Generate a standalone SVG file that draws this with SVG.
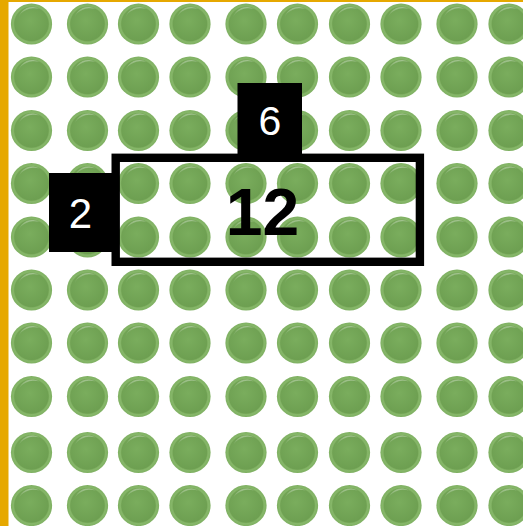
<svg xmlns="http://www.w3.org/2000/svg" xmlns:xlink="http://www.w3.org/1999/xlink" width="523" height="526" viewBox="0 0 523 526">
<defs>
<radialGradient id="rim" cx="0.5" cy="0.5" r="0.5">
<stop offset="0.8" stop-color="#6E9F50"/>
<stop offset="0.88" stop-color="#86B769"/>
<stop offset="1" stop-color="#7FB062"/>
</radialGradient>
<radialGradient id="face" cx="0.45" cy="0.4" r="0.6">
<stop offset="0" stop-color="#7AAD5D"/>
<stop offset="1" stop-color="#6D9F51"/>
</radialGradient>
<linearGradient id="shine" x1="0" y1="0" x2="0" y2="1">
<stop offset="0" stop-color="#ffffff" stop-opacity="0.35"/>
<stop offset="1" stop-color="#ffffff" stop-opacity="0"/>
</linearGradient>
<g id="c">
<circle r="20.6" fill="url(#rim)"/>
<circle r="16.8" fill="url(#face)"/>
<path d="M -13 -6 A 14 14 0 0 1 8 -15 A 16 12 0 0 0 -13 -6 Z" fill="url(#shine)"/>
</g>
</defs>
<style>
.lbl{font-family:"Liberation Sans",Arial,sans-serif;fill:#fff;text-anchor:middle}
.big{font-family:"Liberation Sans",Arial,sans-serif;font-weight:bold;fill:#000;text-anchor:middle}
</style>
<rect x="0" y="0" width="523" height="526" fill="#fff"/>
<rect x="0" y="0" width="523" height="2" fill="#E6A800"/>
<rect x="0" y="0" width="8.5" height="526" fill="#E6A800"/>
<g id="grid">
<use xlink:href="#c" x="31.5" y="24"/><use xlink:href="#c" x="87.5" y="24"/><use xlink:href="#c" x="138.5" y="24"/><use xlink:href="#c" x="190" y="24"/><use xlink:href="#c" x="246" y="24"/><use xlink:href="#c" x="297.5" y="24"/><use xlink:href="#c" x="349.5" y="24"/><use xlink:href="#c" x="401" y="24"/><use xlink:href="#c" x="457" y="24"/><use xlink:href="#c" x="509" y="24"/>
<use xlink:href="#c" x="31.5" y="77"/><use xlink:href="#c" x="87.5" y="77"/><use xlink:href="#c" x="138.5" y="77"/><use xlink:href="#c" x="190" y="77"/><use xlink:href="#c" x="246" y="77"/><use xlink:href="#c" x="297.5" y="77"/><use xlink:href="#c" x="349.5" y="77"/><use xlink:href="#c" x="401" y="77"/><use xlink:href="#c" x="457" y="77"/><use xlink:href="#c" x="509" y="77"/>
<use xlink:href="#c" x="31.5" y="130.5"/><use xlink:href="#c" x="87.5" y="130.5"/><use xlink:href="#c" x="138.5" y="130.5"/><use xlink:href="#c" x="190" y="130.5"/><use xlink:href="#c" x="246" y="130.5"/><use xlink:href="#c" x="297.5" y="130.5"/><use xlink:href="#c" x="349.5" y="130.5"/><use xlink:href="#c" x="401" y="130.5"/><use xlink:href="#c" x="457" y="130.5"/><use xlink:href="#c" x="509" y="130.5"/>
<use xlink:href="#c" x="31.5" y="183.5"/><use xlink:href="#c" x="87.5" y="183.5"/><use xlink:href="#c" x="138.5" y="183.5"/><use xlink:href="#c" x="190" y="183.5"/><use xlink:href="#c" x="246" y="183.5"/><use xlink:href="#c" x="297.5" y="183.5"/><use xlink:href="#c" x="349.5" y="183.5"/><use xlink:href="#c" x="401" y="183.5"/><use xlink:href="#c" x="457" y="183.5"/><use xlink:href="#c" x="509" y="183.5"/>
<use xlink:href="#c" x="31.5" y="237"/><use xlink:href="#c" x="87.5" y="237"/><use xlink:href="#c" x="138.5" y="237"/><use xlink:href="#c" x="190" y="237"/><use xlink:href="#c" x="246" y="237"/><use xlink:href="#c" x="297.5" y="237"/><use xlink:href="#c" x="349.5" y="237"/><use xlink:href="#c" x="401" y="237"/><use xlink:href="#c" x="457" y="237"/><use xlink:href="#c" x="509" y="237"/>
<use xlink:href="#c" x="31.5" y="290"/><use xlink:href="#c" x="87.5" y="290"/><use xlink:href="#c" x="138.5" y="290"/><use xlink:href="#c" x="190" y="290"/><use xlink:href="#c" x="246" y="290"/><use xlink:href="#c" x="297.5" y="290"/><use xlink:href="#c" x="349.5" y="290"/><use xlink:href="#c" x="401" y="290"/><use xlink:href="#c" x="457" y="290"/><use xlink:href="#c" x="509" y="290"/>
<use xlink:href="#c" x="31.5" y="343"/><use xlink:href="#c" x="87.5" y="343"/><use xlink:href="#c" x="138.5" y="343"/><use xlink:href="#c" x="190" y="343"/><use xlink:href="#c" x="246" y="343"/><use xlink:href="#c" x="297.5" y="343"/><use xlink:href="#c" x="349.5" y="343"/><use xlink:href="#c" x="401" y="343"/><use xlink:href="#c" x="457" y="343"/><use xlink:href="#c" x="509" y="343"/>
<use xlink:href="#c" x="31.5" y="396.5"/><use xlink:href="#c" x="87.5" y="396.5"/><use xlink:href="#c" x="138.5" y="396.5"/><use xlink:href="#c" x="190" y="396.5"/><use xlink:href="#c" x="246" y="396.5"/><use xlink:href="#c" x="297.5" y="396.5"/><use xlink:href="#c" x="349.5" y="396.5"/><use xlink:href="#c" x="401" y="396.5"/><use xlink:href="#c" x="457" y="396.5"/><use xlink:href="#c" x="509" y="396.5"/>
<use xlink:href="#c" x="31.5" y="452.5"/><use xlink:href="#c" x="87.5" y="452.5"/><use xlink:href="#c" x="138.5" y="452.5"/><use xlink:href="#c" x="190" y="452.5"/><use xlink:href="#c" x="246" y="452.5"/><use xlink:href="#c" x="297.5" y="452.5"/><use xlink:href="#c" x="349.5" y="452.5"/><use xlink:href="#c" x="401" y="452.5"/><use xlink:href="#c" x="457" y="452.5"/><use xlink:href="#c" x="509" y="452.5"/>
<use xlink:href="#c" x="31.5" y="505.5"/><use xlink:href="#c" x="87.5" y="505.5"/><use xlink:href="#c" x="138.5" y="505.5"/><use xlink:href="#c" x="190" y="505.5"/><use xlink:href="#c" x="246" y="505.5"/><use xlink:href="#c" x="297.5" y="505.5"/><use xlink:href="#c" x="349.5" y="505.5"/><use xlink:href="#c" x="401" y="505.5"/><use xlink:href="#c" x="457" y="505.5"/><use xlink:href="#c" x="509" y="505.5"/>
</g>
<g id="product">
<rect x="115.7" y="157.8" width="304.2" height="104" fill="none" stroke="#000" stroke-width="8.4"/>
<text class="big" x="262.5" y="235" font-size="66">12</text>
</g>
<g id="box6">
<rect x="237.5" y="83" width="64.5" height="72" fill="#000"/>
<text class="lbl" x="270" y="135" font-size="41">6</text>
</g>
<g id="box2">
<rect x="49" y="173" width="64" height="79" fill="#000"/>
<text class="lbl" x="80.5" y="228" font-size="42">2</text>
</g>
</svg>
